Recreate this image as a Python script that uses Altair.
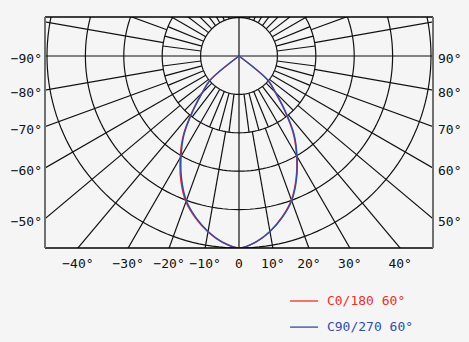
import numpy as np
import pandas as pd
import altair as alt

# ---------------- data ----------------
# polar angles (deg from nadir) and relative intensities (1 unit = one ring)
angles = [0, 5, 10, 15, 20, 25, 30, 35, 40, 45, 50, 55]
c0_vals   = [5.00, 4.87, 4.64, 4.34, 3.99, 3.52, 3.00, 2.47, 1.85, 1.33, 0.98, 0.0]
c180_vals = [5.00, 4.87, 4.65, 4.37, 4.04, 3.58, 3.06, 2.53, 1.89, 1.36, 0.99, 0.0]
c90_vals  = [5.00, 4.87, 4.64, 4.35, 4.01, 3.54, 3.02, 2.50, 1.87, 1.35, 0.99, 0.0]
c270_vals = [5.00, 4.87, 4.64, 4.35, 4.01, 3.54, 3.02, 2.50, 1.87, 1.35, 0.99, 0.0]

ring_radii = [1, 2, 3, 4, 5]
inner_step = 7.5      # radial lines between ring 1 and ring 2
outer_step = 10       # radial lines from ring 2 outward
bottom_ticks = [-40, -30, -20, -10, 0, 10, 20, 30, 40]
side_ticks = [50, 60, 70, 80, 90]
legend_names = ["C0/180 60°", "C90/270 60°"]
legend_colors = ["#e8302f", "#2f4fa8"]

# ---------------- geometry of the frame ----------------
X_HALF = 5.052
Y_BOT, Y_TOP = -5.0, 1.0156
xs = alt.Scale(domain=[-X_HALF, X_HALF], nice=False, zero=False)
ys = alt.Scale(domain=[Y_BOT, Y_TOP], nice=False, zero=False)

rows = []
gid = 0


def seg(a, r0, r1):
    global gid
    t = np.radians(a)
    for i, r in enumerate([r0, r1]):
        rows.append((gid, i, r * np.sin(t), -r * np.cos(t)))
    gid += 1


for r in ring_radii:
    t = np.radians(np.arange(0, 361, 2))
    for i, tt in enumerate(t):
        rows.append((gid, i, r * np.sin(tt), r * np.cos(tt)))
    gid += 1
# axes through the centre
seg(0, -9, 9)
seg(90, -9, 9)
for a in np.arange(0, 360, inner_step):
    if a % 90:
        seg(a, 1, 2)
for a in range(0, 360, outer_step):
    if a % 90:
        seg(a, 2, 9)
grid_df = pd.DataFrame(rows, columns=["gid", "idx", "x", "y"])


def curve(left, right, name):
    pts = []
    for a, r in zip(reversed(angles), reversed(left)):
        t = np.radians(a)
        pts.append((-r * np.sin(t), -r * np.cos(t)))
    for a, r in zip(angles[1:], right[1:]):
        t = np.radians(a)
        pts.append((r * np.sin(t), -r * np.cos(t)))
    d = pd.DataFrame(pts, columns=["x", "y"])
    d["idx"] = range(len(d))
    d["name"] = name
    return d


red_df = curve(c180_vals, c0_vals, legend_names[0])
blue_df = curve(c270_vals, c90_vals, legend_names[1])

X = lambda f="x": alt.X(f"{f}:Q", scale=xs, axis=None)
Y = lambda f="y": alt.Y(f"{f}:Q", scale=ys, axis=None)

grid = alt.Chart(grid_df).mark_line(clip=True, color="#111111", strokeWidth=1.2).encode(
    x=X(), y=Y(), detail="gid:N", order="idx:Q")

red = alt.Chart(red_df).mark_line(clip=True, color=legend_colors[0], strokeWidth=1.5,
                                  interpolate="catmull-rom").encode(x=X(), y=Y(), order="idx:Q")
blue = alt.Chart(blue_df).mark_line(clip=True, color=legend_colors[1], strokeWidth=1.5,
                                    interpolate="catmull-rom").encode(x=X(), y=Y(), order="idx:Q")

hb = pd.DataFrame({"y": [Y_TOP, Y_BOT], "x": [-X_HALF] * 2, "x2": [X_HALF] * 2})
vb = pd.DataFrame({"x": [-X_HALF, X_HALF], "y": [Y_BOT] * 2, "y2": [Y_TOP] * 2})
hborder = alt.Chart(hb).mark_rule(color="#000000", strokeWidth=1.5).encode(
    x=X(), x2="x2:Q", y=Y())
vborder = alt.Chart(vb).mark_rule(color="#707070", strokeWidth=2).encode(
    x=X(), y=Y(), y2="y2:Q")

FONT = "DejaVu Sans Mono"
bt = pd.DataFrame({
    "x": [-Y_BOT * np.tan(np.radians(a)) for a in bottom_ticks],
    "y": [Y_BOT] * len(bottom_ticks),
    "t": [("0" if a == 0 else f"{a}°".replace("-", "\u2212")) for a in bottom_ticks],
})
bottom_lbl = alt.Chart(bt).mark_text(font=FONT, fontSize=13, color="#111111", dy=16,
                                     baseline="middle", align="center").encode(
    x=X(), y=Y(), text="t:N")

sl = pd.DataFrame({
    "y": [-X_HALF / np.tan(np.radians(a)) for a in side_ticks],
    "xl": [-X_HALF] * len(side_ticks),
    "xr": [X_HALF] * len(side_ticks),
    "tl": [f"\u2212{a}°" for a in side_ticks],
    "tr": [f"{a}°" for a in side_ticks],
})
left_lbl = alt.Chart(sl).mark_text(font=FONT, fontSize=13, color="#111111", dx=-3, dy=3,
                                   baseline="middle", align="right").encode(
    x=X("xl"), y=Y(), text="tl:N")
right_lbl = alt.Chart(sl).mark_text(font=FONT, fontSize=13, color="#111111", dx=5, dy=3,
                                    baseline="middle", align="left").encode(
    x=X("xr"), y=Y(), text="tr:N")

lg = pd.DataFrame({
    "name": legend_names,
    "x": [1.33, 1.33], "x2": [2.06, 2.06], "xt": [2.29, 2.29],
    "y": [-6.38, -7.06],
})
cs = alt.Scale(domain=legend_names, range=legend_colors)
leg_line = alt.Chart(lg).mark_rule(strokeWidth=1.3).encode(
    x=X(), x2="x2:Q", y=Y(), color=alt.Color("name:N", scale=cs, legend=None))
leg_text = alt.Chart(lg).mark_text(font=FONT, fontSize=13, align="left", baseline="middle").encode(
    x=X("xt"), y=Y(), text="name:N", color=alt.Color("name:N", scale=cs, legend=None))

chart = alt.layer(grid, red, blue, hborder, vborder, bottom_lbl, left_lbl, right_lbl,
                  leg_line, leg_text).properties(
    width=388, height=231,
    padding={"left": 45, "top": 17, "right": 36, "bottom": 94},
    autosize=alt.AutoSizeParams(type="none"),
    background="#f5f5f5",
).configure_view(stroke=None)

chart.save("out.html", embed_options={"renderer": "svg", "actions": False})
